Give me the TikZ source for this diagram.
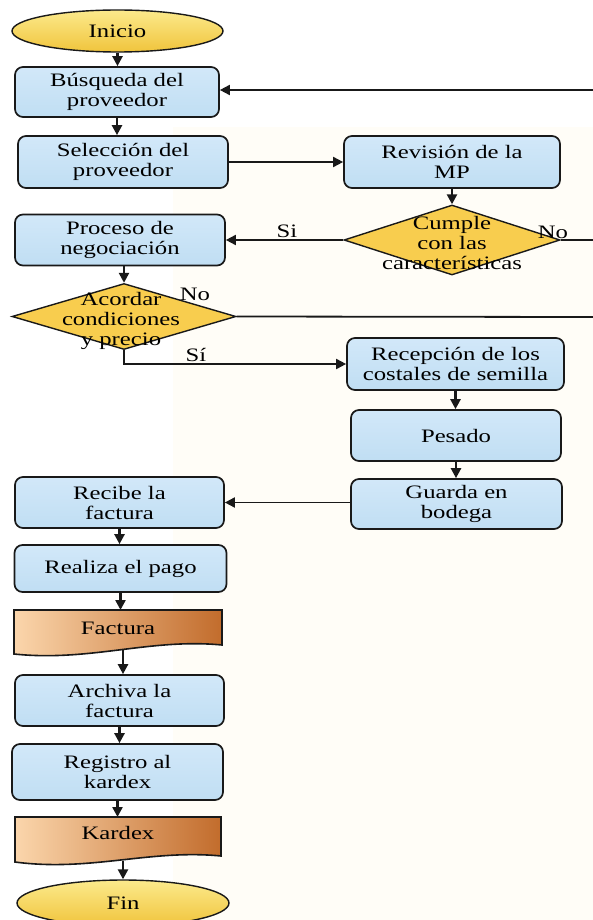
\documentclass[tikz,border=0pt]{standalone}
\usepackage{fontspec}
\setmainfont{Liberation Serif}[FakeStretch=1.3]
\usetikzlibrary{arrows.meta,shapes.geometric,calc}
\definecolor{linec}{RGB}{25,25,25}
\definecolor{boxtop}{RGB}{210,232,249}
\definecolor{boxbot}{RGB}{192,222,243}
\definecolor{yeltop}{RGB}{252,234,140}
\definecolor{yelbot}{RGB}{240,196,60}
\definecolor{diafill}{RGB}{248,205,78}
\definecolor{docl}{RGB}{251,214,172}
\definecolor{docr}{RGB}{194,108,44}
\definecolor{cream}{RGB}{255,253,247}
\newcommand{\mainf}{\fontsize{19}{20}\selectfont}
\tikzset{
  box/.style={draw=linec, line width=1.7pt, rounded corners=8pt, top color=boxtop, bottom color=boxbot, align=center, inner sep=0pt, font=\mainf, text=black},
  term/.style={ellipse, draw=linec, line width=1.4pt, top color=yeltop, bottom color=yelbot, inner sep=0pt, font=\mainf},
  dia/.style={diamond, draw=linec, line width=1.4pt, fill=diafill, inner sep=0pt},
  doc/.style={draw=linec, line width=1.6pt, left color=docl, right color=docr},
  txt/.style={align=center, font=\mainf, inner sep=0pt},
  lbl/.style={font=\mainf, inner sep=0pt},
  arr/.style={line width=1.8pt, draw=linec, -{Triangle[length=10pt,width=10pt]}},
  varr/.style={arr, line width=2.4pt},
  ln/.style={line width=1.8pt, draw=linec}
}
\begin{document}
\begin{tikzpicture}[x=1pt,y=-1pt]
\useasboundingbox (0,0) rectangle (593,920);
\clip (0,0) rectangle (593,920);
\fill[white] (0,0) rectangle (593,920);
\fill[cream] (173,127) rectangle (593,920);

% terminals
\node[term, minimum width=211pt, minimum height=42pt] (ini) at (117.5,31) {Inicio};
\node[term, minimum width=212pt, minimum height=46pt] (fin) at (123,903) {Fin};

% process boxes
\node[box, minimum width=204pt, minimum height=50pt] (busq) at (117,92) {Búsqueda del\\proveedor};
\node[box, minimum width=210pt, minimum height=52pt] (sel) at (123,162) {Selección del\\proveedor};
\node[box, minimum width=216pt, minimum height=52pt] (rev) at (452,162) {Revisión de la\\MP};
\node[box, minimum width=210pt, minimum height=51pt] (proc) at (120,240) {Proceso de\\negociación};
\node[box, minimum width=217pt, minimum height=52pt] (rec) at (455.5,364) {Recepción de los\\costales de semilla};
\node[box, minimum width=210pt, minimum height=51pt] (pes) at (456,435.5) {Pesado};
\node[box, minimum width=211pt, minimum height=50pt] (gua) at (456.5,504) {Guarda en\\bodega};
\node[box, minimum width=209pt, minimum height=51pt] (recibe) at (119.5,502.5) {Recibe la\\factura};
\node[box, minimum width=212pt, minimum height=47pt] (realiza) at (120.5,568.5) {Realiza el pago};
\node[box, minimum width=209pt, minimum height=51pt] (arch) at (119.5,700.5) {Archiva la\\factura};
\node[box, minimum width=211pt, minimum height=56pt] (reg) at (117.5,772) {Registro al\\kardex};

% decisions
\node[dia, minimum width=216pt, minimum height=70pt] (cumple) at (452,240) {};
\node[txt] (cumpleT) at (452,243) {Cumple\\con las\\características};
\node[dia, minimum width=224pt, minimum height=66pt] (acord) at (124,316.5) {};
\node[txt] (acordT) at (121,321) {Acordar\\condiciones\\y precio};

% documents
\coordinate (ftop) at (118,610);
\coordinate (factb) at (123,650);
\path[doc] (14,610) -- (222,610) -- (222,645) .. controls (150,638) and (90,662) .. (14,654) -- cycle;
\node[txt] (fact) at (118,628) {Factura};
\coordinate (ktop) at (118,817);
\coordinate (kardb) at (123,861);
\path[doc] (15,817) -- (221,817) -- (221,856) .. controls (150,849) and (90,872) .. (15,862) -- cycle;
\node[txt] (kard) at (118,833) {Kardex};

% right edge free ends
\coordinate (rb) at (593,90);
\coordinate (rc) at (593,240);
\coordinate (ra) at (593,317);

% connectors
\draw[varr] (ini.south) -- (ini.south |- busq.north);
\draw[varr] (busq.south) -- (busq.south |- sel.north);
\draw[arr] (rb) -- (busq.east |- rb);
\draw[arr] (sel.east) -- (rev.west);
\draw[varr] (rev.south) -- (cumple.north);
\draw[arr] (cumple.west) -- (proc.east |- cumple.west);
\draw[ln] (cumple.east) -- (rc);
\draw[varr] (acord.north |- proc.south) -- (acord.north);
\draw[ln] (acord.east) -- (ra);
\draw[arr] (acord.south) |- (rec.west);
\draw[varr] (rec.south) -- (rec.south |- pes.north);
\draw[varr] (pes.south) -- (pes.south |- gua.north);
\draw[arr] (gua.west |- recibe.east) -- (recibe.east);
\draw[varr] (recibe.south) -- (recibe.south |- realiza.north);
\draw[varr] (realiza.south) -- (realiza.south |- ftop);
\draw[varr] (factb) -- (factb |- arch.north);
\draw[varr] (arch.south) -- (arch.south |- reg.north);
\draw[varr] (reg.south) -- (reg.south |- ktop);
\draw[varr] (kardb) -- (kardb |- fin.north);

% labels
\node[lbl] (lsi) at (287,231) {Si};
\node[lbl] (lno1) at (553,232) {No};
\node[lbl] (lno2) at (195,294) {No};
\node[lbl] (lsi2) at (196,355) {Sí};
\end{tikzpicture}
\end{document}
